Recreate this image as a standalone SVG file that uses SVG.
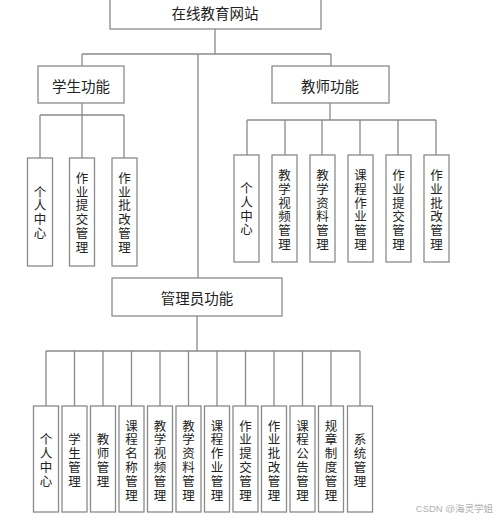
<svg xmlns="http://www.w3.org/2000/svg" width="500" height="519" viewBox="0 0 500 519">
<style>
.bx{fill:#fff;stroke:#8a8a8a;stroke-width:1.3}
.ln{fill:none;stroke:#8a8a8a;stroke-width:1.3}
.t{font-family:"Noto Sans CJK SC","Liberation Sans",sans-serif;fill:#222;text-anchor:middle;dominant-baseline:central}
.h{font-size:14.5px}
.v{font-size:12.5px}
.wm{font-family:"Liberation Sans","Noto Sans CJK SC",sans-serif;font-size:9.5px;fill:#b0b0b0;text-anchor:end}
</style>
<rect width="500" height="519" fill="#fff"/>
<g id="connectors">
<path class="ln" d="M215,29V54M82,54H331M82,54V66M331,54V66M198,54V278"/>
<path class="ln" d="M82,103V115M40,115H124M40,115V158M82,115V158M124,115V158"/>
<path class="ln" d="M330,103V120M247,120H436M247,120V155M285,120V155M322,120V155M360,120V155M398,120V155M436,120V155"/>
<path class="ln" d="M197,316V351M46,351H360M46,351V406M74.5,351V406M103,351V406M131.5,351V406M160,351V406M188.5,351V406M217,351V406M245.5,351V406M274,351V406M302.5,351V406M331,351V406M360,351V406"/>
</g>
<g id="root"><rect class="bx" x="110" y="-2" width="211" height="31"/><text class="t h" x="215" y="12">在线教育网站</text></g>
<g id="student"><rect class="bx" x="38" y="66" width="86" height="37"/><text class="t h" x="81" y="85">学生功能</text></g>
<g id="teacher"><rect class="bx" x="272" y="66" width="117" height="37"/><text class="t h" x="330" y="85">教师功能</text></g>
<g id="admin"><rect class="bx" x="112" y="278" width="170" height="38"/><text class="t h" x="197" y="297">管理员功能</text></g>

<g id="s1"><rect class="bx" x="27.5" y="158" width="25" height="108"/><text class="t v" x="40" y="190.5"><tspan x="40" dy="0">个</tspan><tspan x="40" dy="13.7">人</tspan><tspan x="40" dy="13.7">中</tspan><tspan x="40" dy="13.7">心</tspan></text></g>
<g id="s2"><rect class="bx" x="69.5" y="158" width="25" height="108"/><text class="t v" x="82" y="177"><tspan x="82" dy="0">作</tspan><tspan x="82" dy="13.7">业</tspan><tspan x="82" dy="13.7">提</tspan><tspan x="82" dy="13.7">交</tspan><tspan x="82" dy="13.7">管</tspan><tspan x="82" dy="13.7">理</tspan></text></g>
<g id="s3"><rect class="bx" x="112" y="158" width="25" height="108"/><text class="t v" x="124.5" y="177"><tspan x="124.5" dy="0">作</tspan><tspan x="124.5" dy="13.7">业</tspan><tspan x="124.5" dy="13.7">批</tspan><tspan x="124.5" dy="13.7">改</tspan><tspan x="124.5" dy="13.7">管</tspan><tspan x="124.5" dy="13.7">理</tspan></text></g>

<g id="t1"><rect class="bx" x="234" y="155" width="25" height="107"/><text class="t v" x="246.5" y="187"><tspan x="246.5" dy="0">个</tspan><tspan x="246.5" dy="13.8">人</tspan><tspan x="246.5" dy="13.8">中</tspan><tspan x="246.5" dy="13.8">心</tspan></text></g>
<g id="t2"><rect class="bx" x="272" y="155" width="25" height="107"/><text class="t v" x="284.5" y="174"><tspan x="284.5" dy="0">教</tspan><tspan x="284.5" dy="13.8">学</tspan><tspan x="284.5" dy="13.8">视</tspan><tspan x="284.5" dy="13.8">频</tspan><tspan x="284.5" dy="13.8">管</tspan><tspan x="284.5" dy="13.8">理</tspan></text></g>
<g id="t3"><rect class="bx" x="310" y="155" width="25" height="107"/><text class="t v" x="322.5" y="174"><tspan x="322.5" dy="0">教</tspan><tspan x="322.5" dy="13.8">学</tspan><tspan x="322.5" dy="13.8">资</tspan><tspan x="322.5" dy="13.8">料</tspan><tspan x="322.5" dy="13.8">管</tspan><tspan x="322.5" dy="13.8">理</tspan></text></g>
<g id="t4"><rect class="bx" x="348" y="155" width="25" height="107"/><text class="t v" x="360.5" y="174"><tspan x="360.5" dy="0">课</tspan><tspan x="360.5" dy="13.8">程</tspan><tspan x="360.5" dy="13.8">作</tspan><tspan x="360.5" dy="13.8">业</tspan><tspan x="360.5" dy="13.8">管</tspan><tspan x="360.5" dy="13.8">理</tspan></text></g>
<g id="t5"><rect class="bx" x="386" y="155" width="25" height="107"/><text class="t v" x="398.5" y="174"><tspan x="398.5" dy="0">作</tspan><tspan x="398.5" dy="13.8">业</tspan><tspan x="398.5" dy="13.8">提</tspan><tspan x="398.5" dy="13.8">交</tspan><tspan x="398.5" dy="13.8">管</tspan><tspan x="398.5" dy="13.8">理</tspan></text></g>
<g id="t6"><rect class="bx" x="424" y="155" width="25" height="107"/><text class="t v" x="436.5" y="174"><tspan x="436.5" dy="0">作</tspan><tspan x="436.5" dy="13.8">业</tspan><tspan x="436.5" dy="13.8">批</tspan><tspan x="436.5" dy="13.8">改</tspan><tspan x="436.5" dy="13.8">管</tspan><tspan x="436.5" dy="13.8">理</tspan></text></g>

<g id="a1"><rect class="bx" x="33.5" y="406" width="25" height="106"/><text class="t v" x="46" y="438"><tspan x="46" dy="0">个</tspan><tspan x="46" dy="13.9">人</tspan><tspan x="46" dy="13.9">中</tspan><tspan x="46" dy="13.9">心</tspan></text></g>
<g id="a2"><rect class="bx" x="62" y="406" width="25" height="106"/><text class="t v" x="74.5" y="438"><tspan x="74.5" dy="0">学</tspan><tspan x="74.5" dy="13.9">生</tspan><tspan x="74.5" dy="13.9">管</tspan><tspan x="74.5" dy="13.9">理</tspan></text></g>
<g id="a3"><rect class="bx" x="90.5" y="406" width="25" height="106"/><text class="t v" x="103" y="438"><tspan x="103" dy="0">教</tspan><tspan x="103" dy="13.9">师</tspan><tspan x="103" dy="13.9">管</tspan><tspan x="103" dy="13.9">理</tspan></text></g>
<g id="a4"><rect class="bx" x="119" y="406" width="25" height="106"/><text class="t v" x="131.5" y="424.5"><tspan x="131.5" dy="0">课</tspan><tspan x="131.5" dy="13.9">程</tspan><tspan x="131.5" dy="13.9">名</tspan><tspan x="131.5" dy="13.9">称</tspan><tspan x="131.5" dy="13.9">管</tspan><tspan x="131.5" dy="13.9">理</tspan></text></g>
<g id="a5"><rect class="bx" x="147.5" y="406" width="25" height="106"/><text class="t v" x="160" y="424.5"><tspan x="160" dy="0">教</tspan><tspan x="160" dy="13.9">学</tspan><tspan x="160" dy="13.9">视</tspan><tspan x="160" dy="13.9">频</tspan><tspan x="160" dy="13.9">管</tspan><tspan x="160" dy="13.9">理</tspan></text></g>
<g id="a6"><rect class="bx" x="176" y="406" width="25" height="106"/><text class="t v" x="188.5" y="424.5"><tspan x="188.5" dy="0">教</tspan><tspan x="188.5" dy="13.9">学</tspan><tspan x="188.5" dy="13.9">资</tspan><tspan x="188.5" dy="13.9">料</tspan><tspan x="188.5" dy="13.9">管</tspan><tspan x="188.5" dy="13.9">理</tspan></text></g>
<g id="a7"><rect class="bx" x="204.5" y="406" width="25" height="106"/><text class="t v" x="217" y="424.5"><tspan x="217" dy="0">课</tspan><tspan x="217" dy="13.9">程</tspan><tspan x="217" dy="13.9">作</tspan><tspan x="217" dy="13.9">业</tspan><tspan x="217" dy="13.9">管</tspan><tspan x="217" dy="13.9">理</tspan></text></g>
<g id="a8"><rect class="bx" x="233" y="406" width="25" height="106"/><text class="t v" x="245.5" y="424.5"><tspan x="245.5" dy="0">作</tspan><tspan x="245.5" dy="13.9">业</tspan><tspan x="245.5" dy="13.9">提</tspan><tspan x="245.5" dy="13.9">交</tspan><tspan x="245.5" dy="13.9">管</tspan><tspan x="245.5" dy="13.9">理</tspan></text></g>
<g id="a9"><rect class="bx" x="261.5" y="406" width="25" height="106"/><text class="t v" x="274" y="424.5"><tspan x="274" dy="0">作</tspan><tspan x="274" dy="13.9">业</tspan><tspan x="274" dy="13.9">批</tspan><tspan x="274" dy="13.9">改</tspan><tspan x="274" dy="13.9">管</tspan><tspan x="274" dy="13.9">理</tspan></text></g>
<g id="a10"><rect class="bx" x="290" y="406" width="25" height="106"/><text class="t v" x="302.5" y="424.5"><tspan x="302.5" dy="0">课</tspan><tspan x="302.5" dy="13.9">程</tspan><tspan x="302.5" dy="13.9">公</tspan><tspan x="302.5" dy="13.9">告</tspan><tspan x="302.5" dy="13.9">管</tspan><tspan x="302.5" dy="13.9">理</tspan></text></g>
<g id="a11"><rect class="bx" x="318.5" y="406" width="25" height="106"/><text class="t v" x="331" y="424.5"><tspan x="331" dy="0">规</tspan><tspan x="331" dy="13.9">章</tspan><tspan x="331" dy="13.9">制</tspan><tspan x="331" dy="13.9">度</tspan><tspan x="331" dy="13.9">管</tspan><tspan x="331" dy="13.9">理</tspan></text></g>
<g id="a12"><rect class="bx" x="347.5" y="406" width="25" height="106"/><text class="t v" x="360" y="438"><tspan x="360" dy="0">系</tspan><tspan x="360" dy="13.9">统</tspan><tspan x="360" dy="13.9">管</tspan><tspan x="360" dy="13.9">理</tspan></text></g>

<text class="wm" x="493" y="512">CSDN @海灵学姐</text>
</svg>
